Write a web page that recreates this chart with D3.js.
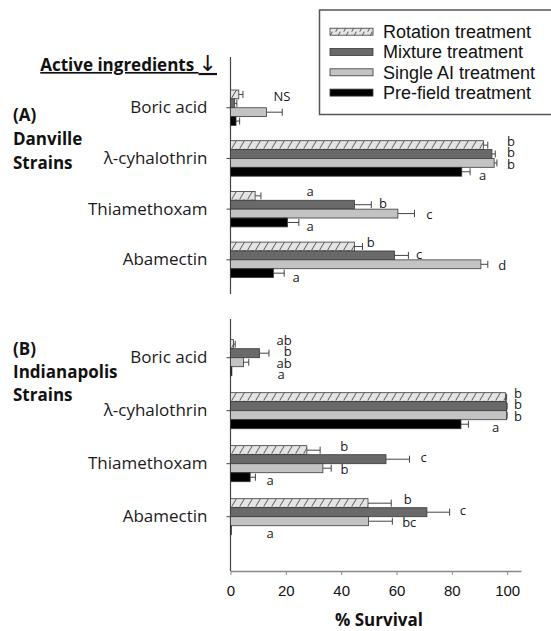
<!DOCTYPE html>
<html>
<head>
<meta charset="utf-8">
<script src="https://cdn.jsdelivr.net/npm/d3@7"></script>
<style>
  body { margin: 0; background: #fff; }
  svg { display: block; }
</style>
</head>
<body>
<div id="chart"></div>
<script>
// data
var ingredients = ["Boric acid", "λ-cyhalothrin", "Thiamethoxam", "Abamectin"];
var treatments = ["Rotation treatment", "Mixture treatment", "Single AI treatment", "Pre-field treatment"];
var xTicks = [0, 20, 40, 60, 80, 100];

// rows = ingredients, cols = treatments (rotation, mixture, single, pre-field)
var danvilleMeans = [[3, 1.5, 13, 2], [91.4, 94.5, 95.3, 83.6], [8.9, 44.8, 60.5, 20.6], [44.8, 59.3, 90.5, 15.5]];
var danvilleErrors = [[1.5, 0.8, 5.7, 1.3], [1.6, 1.2, 1.0, 3.0], [2.1, 6.1, 6.0, 4.1], [2.9, 5.0, 2.5, 3.9]];
var danvilleLetters = [["", "", "", ""], ["b", "b", "b", "a"], ["a", "b", "c", "a"], ["b", "c", "d", "a"]];
var danvilleLetterX = [[0, 0, 0, 0], [101.4, 101.4, 101.4, 91.1], [28.8, 55.1, 71.9, 28.8], [50.7, 68.2, 98.2, 23.7]];

var indyMeans = [[1.1, 10.5, 4.7, 0.5], [99.4, 99.8, 99.8, 83.3], [27.6, 56.2, 33.4, 7.1], [49.7, 71.0, 49.9, 0.3]];
var indyErrors = [[0.6, 3.4, 1.9, 0], [0.4, 0.2, 0.2, 2.7], [4.8, 8.5, 3.0, 1.9], [8.4, 8.2, 8.6, 0]];
var indyLetters = [["ab", "b", "ab", "a"], ["b", "b", "b", "a"], ["b", "c", "b", "a"], ["b", "c", "bc", "a"]];
var indyLetterX = [[19.4, 20.7, 19.4, 18.3], [103.9, 103.9, 103.9, 95.8], [41.1, 69.8, 41.2, 14.3], [64.1, 84.0, 64.6, 14.3]];

var fills = ["url(#hatch)", "#696969", "#c3c3c3", "#000000"];

var width = 551, height = 631;
var svg = d3.select("#chart").append("svg")
    .attr("width", width)
    .attr("height", height);

var defs = svg.append("defs");
var hatch = defs.append("pattern")
    .attr("id", "hatch")
    .attr("patternUnits", "userSpaceOnUse")
    .attr("width", 8)
    .attr("height", 8);
hatch.append("rect").attr("width", 8).attr("height", 8).attr("fill", "#e4e4e4");
hatch.append("path")
    .attr("d", "M-1,9 L5,-1 M7,9 L13,-1 M-9,9 L-3,-1")
    .attr("stroke", "#555")
    .attr("stroke-width", 1);

var x = d3.scaleLinear()
    .domain([0, 105])
    .range([230.5, 521]);

var panels = [
    {means: danvilleMeans, errors: danvilleErrors, letters: danvilleLetters, letterX: danvilleLetterX,
     range: [82.4, 285.2], axisTop: 57, axisBottom: 294, pad: 0.3,
     title: ["(A)", "Danville", "Strains"], titleY: 115, titleStep: 24},
    {means: indyMeans, errors: indyErrors, letters: indyLetters, letterX: indyLetterX,
     range: [331.2, 543.2], axisTop: 319, axisBottom: 571, pad: 0.32,
     title: ["(B)", "Indianapolis", "Strains"], titleY: 349, titleStep: 23}
];

panels.forEach(function(p) {
    var y0 = d3.scaleBand()
        .domain(ingredients)
        .range(p.range)
        .paddingInner(p.pad)
        .paddingOuter(p.pad / 2);
    var y1 = d3.scaleBand()
        .domain(treatments)
        .range([0, y0.bandwidth()]);

    var g = svg.append("g");

    // category axis
    var yAxis = g.append("g")
        .attr("transform", "translate(" + x(0) + ",0)")
        .call(d3.axisLeft(y0).tickSize(4).tickSizeOuter(0).tickPadding(19));
    yAxis.select(".domain").remove();
    yAxis.selectAll(".tick line").attr("stroke", "#444");
    yAxis.selectAll(".tick text")
        .attr("font-family", "'Open Sans', sans-serif")
        .attr("font-size", 17)
        .attr("fill", "#1a1a1a");

    g.append("line")
        .attr("x1", x(0)).attr("x2", x(0))
        .attr("y1", p.axisTop).attr("y2", p.axisBottom)
        .attr("stroke", "#444")
        .attr("stroke-width", 1.2);

    var groups = g.selectAll(".grp")
        .data(ingredients)
        .enter().append("g")
        .attr("class", "grp")
        .attr("transform", function(d) { return "translate(0," + y0(d) + ")"; });

    groups.each(function(ing, i) {
        var grp = d3.select(this);
        var rows = treatments.map(function(t, j) {
            return {t: t, j: j, v: p.means[i][j], e: p.errors[i][j]};
        });

        // error bars (upper side only)
        rows.forEach(function(r) {
            if (r.e <= 0) return;
            var yc = y1(r.t) + y1.bandwidth() / 2;
            grp.append("line")
                .attr("x1", x(r.v)).attr("x2", x(r.v + r.e))
                .attr("y1", yc).attr("y2", yc)
                .attr("stroke", "#444").attr("stroke-width", 1);
            grp.append("line")
                .attr("x1", x(r.v + r.e)).attr("x2", x(r.v + r.e))
                .attr("y1", yc - 3.5).attr("y2", yc + 3.5)
                .attr("stroke", "#444").attr("stroke-width", 1);
        });

        grp.selectAll(".bar")
            .data(rows)
            .enter().append("rect")
            .attr("class", "bar")
            .attr("x", x(0))
            .attr("y", function(d) { return y1(d.t); })
            .attr("width", function(d) { return x(d.v) - x(0); })
            .attr("height", y1.bandwidth())
            .attr("fill", function(d) { return fills[d.j]; })
            .attr("stroke", "#3a3a3a")
            .attr("stroke-width", 0.8);

        // significance letters
        var mid = y0.bandwidth() / 2;
        grp.selectAll(".letter")
            .data(rows.filter(function(d) { return p.letters[i][d.j] !== ""; }))
            .enter().append("text")
            .attr("class", "letter")
            .attr("x", function(d) { return x(p.letterX[i][d.j]); })
            .attr("y", function(d) { return mid + (d.j - 1.5) * 11.5; })
            .attr("dy", "0.35em")
            .attr("text-anchor", "middle")
            .attr("font-family", "'Open Sans', sans-serif")
            .attr("font-size", 13)
            .attr("fill", "#1a1a1a")
            .text(function(d) { return p.letters[i][d.j]; });
    });

    // panel title
    g.append("text")
        .attr("x", 13)
        .attr("font-family", "'Open Sans', sans-serif")
        .attr("font-weight", "bold")
        .attr("font-size", 17)
        .attr("fill", "#111")
        .selectAll("tspan")
        .data(p.title)
        .enter().append("tspan")
        .attr("x", 13)
        .attr("y", function(d, k) { return p.titleY + k * p.titleStep; })
        .attr("dy", "0.35em")
        .text(function(d) { return d; });
});

// NS note for Danville boric acid
svg.append("text")
    .attr("x", x(18.6))
    .attr("y", 96)
    .attr("dy", "0.35em")
    .attr("text-anchor", "middle")
    .attr("font-family", "'Open Sans', sans-serif")
    .attr("font-size", 13)
    .attr("fill", "#1a1a1a")
    .text("NS");

// x axis
var xAxis = svg.append("g")
    .attr("transform", "translate(0,571)")
    .call(d3.axisBottom(x).tickValues(xTicks).tickSize(4).tickSizeOuter(0).tickPadding(10));
xAxis.select(".domain").attr("stroke", "#888").attr("stroke-width", 1.5);
xAxis.selectAll(".tick line").attr("stroke", "#888");
xAxis.selectAll(".tick text")
    .attr("font-family", "'Liberation Sans', Arial, sans-serif")
    .attr("font-size", 15)
    .attr("fill", "#111");

svg.append("text")
    .attr("x", 379)
    .attr("y", 620)
    .attr("dy", "0.35em")
    .attr("text-anchor", "middle")
    .attr("font-family", "'Open Sans', sans-serif")
    .attr("font-weight", "bold")
    .attr("font-size", 17)
    .attr("fill", "#111")
    .text("% Survival");

// header
var hdr = svg.append("text")
    .attr("x", 217)
    .attr("y", 65)
    .attr("dy", "0.35em")
    .attr("text-anchor", "end")
    .attr("font-family", "'Open Sans', sans-serif")
    .attr("font-weight", "bold")
    .attr("font-size", 17)
    .attr("fill", "#111")
    .attr("text-decoration", "underline");
hdr.append("tspan").text("Active ingredients ");
hdr.append("tspan")
    .attr("font-family", "'DejaVu Sans', sans-serif")
    .attr("font-size", 22)
    .attr("font-weight", "normal")
    .text("↓");

// legend
var legend = svg.append("g");
legend.append("rect")
    .attr("x", 319.5).attr("y", 10)
    .attr("width", 240).attr("height", 104.5)
    .attr("fill", "#fff")
    .attr("stroke", "#555")
    .attr("stroke-width", 1.5);
var items = legend.selectAll(".item")
    .data(treatments)
    .enter().append("g")
    .attr("class", "item")
    .attr("transform", function(d, i) { return "translate(0," + (31.7 + i * 20.3) + ")"; });
items.append("rect")
    .attr("x", 330).attr("y", -3.5)
    .attr("width", 43).attr("height", 7)
    .attr("fill", function(d, i) { return fills[i]; })
    .attr("stroke", "#3a3a3a")
    .attr("stroke-width", 0.8);
items.append("text")
    .attr("x", 383)
    .attr("dy", "0.35em")
    .attr("font-family", "'Liberation Sans', Arial, sans-serif")
    .attr("font-size", 18)
    .attr("fill", "#111")
    .text(function(d) { return d; });
</script>
</body>
</html>
